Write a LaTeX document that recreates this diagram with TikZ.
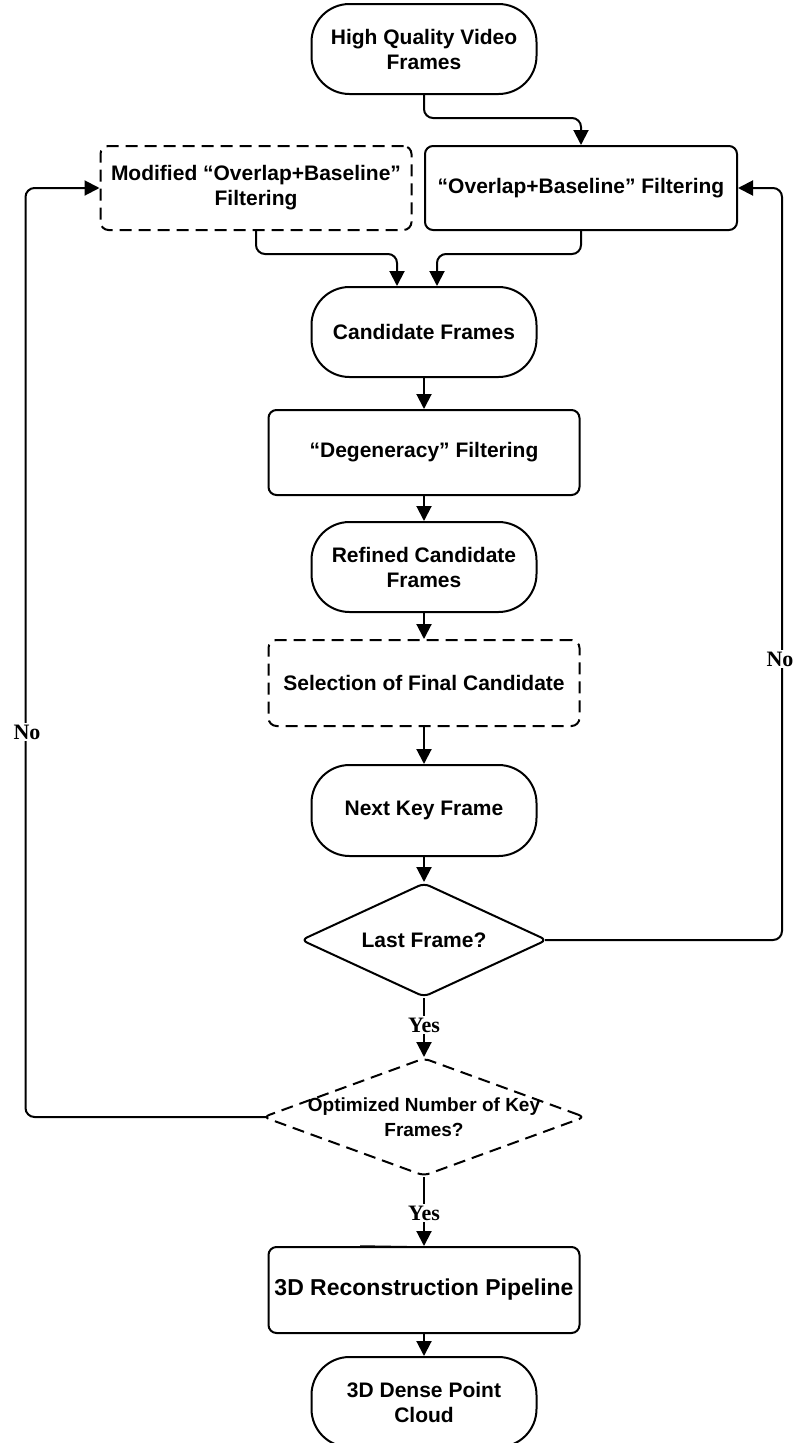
\documentclass[tikz,border=0pt]{standalone}
\usepackage{fontspec}
\setmainfont{Liberation Sans}
\newfontfamily\answerfont{Liberation Serif}
\usetikzlibrary{shapes.geometric,arrows.meta,calc}

\tikzset{
  boxfont/.style={font=\bfseries\fontsize{21}{25}\selectfont},
  base/.style={draw, line width=2pt, align=center, inner sep=0pt, boxfont},
  terminal/.style={base, rectangle, rounded corners=38pt,
    minimum width=225pt, minimum height=90pt},
  process/.style={base, rectangle, rounded corners=8pt,
    minimum width=311pt, minimum height=85pt},
  dashline/.style={dash pattern=on 12pt off 7pt},
  decision/.style={base, diamond, rounded corners=6pt},
  link/.style={line width=2pt, rounded corners=9pt,
    -{Triangle[length=15pt,width=15pt]}},
  answer/.style={fill=white, inner sep=2pt,
    font=\answerfont\bfseries\fontsize{22}{26}\selectfont},
}

\begin{document}
\begin{tikzpicture}[x=1pt, y=-1pt]
\useasboundingbox (0,0) rectangle (793,1443);
\clip (0,0) rectangle (793,1443);

% main column
\node[terminal] (hq) at (424,49) {High Quality Video\\Frames};
\node[process, dashline, minimum width=311pt, minimum height=84pt] (mod) at (256,188)
  {Modified ``Overlap+Baseline''\\Filtering};
\node[process, minimum width=312pt, minimum height=84pt] (ovl) at (581,188)
  {``Overlap+Baseline'' Filtering};
\node[terminal] (cand) at (424,332) {Candidate Frames};
\node[process] (deg) at (424,452.5) {``Degeneracy'' Filtering};
\node[terminal] (refined) at (424,567) {Refined Candidate\\Frames};
\node[process, dashline, minimum height=86pt] (sel) at (424,683) {Selection of Final Candidate};
\node[terminal, minimum height=91pt] (next) at (424,810.5) {Next Key Frame};

% decisions
\node[decision, minimum width=246pt, minimum height=114pt] (last) at (424,940) {};
\node[boxfont] (lasttext) at (last) {Last Frame?};
\node[decision, dashline, minimum width=322pt, minimum height=118pt] (opt) at (424,1117) {};
\node[font=\bfseries\fontsize{19}{25}\selectfont, align=center] (opttext) at (opt)
  {Optimized Number of Key\\Frames?};

% output
\node[process, minimum height=86pt, font=\bfseries\fontsize{23}{27}\selectfont] (recon) at (424,1290)
  {3D Reconstruction Pipeline};
\node[terminal] (dense) at (424,1402) {3D Dense Point\\Cloud};

% connectors
\draw[link] (hq.south) -- ++(0,23) -| (ovl.north);
\draw[link] (mod.south) -- ++(0,23) -| ([xshift=-27pt]cand.north);
\draw[link] (ovl.south) -- ++(0,23) -| ([xshift=13pt]cand.north);
\draw[link] (cand.south) -- (deg.north);
\draw[link] (deg.south) -- (refined.north);
\draw[link] (refined.south) -- (sel.north);
\draw[link] (sel.south) -- (next.north);
\draw[link] (next.south) -- (last.north);

% "No" loop on the right
\draw[link] ([xshift=-3pt]last.east) -| ($(ovl.east)+(44,0)$) -- (ovl.east);
\node[answer] (noright) at (780,659) {No};

% "No" loop on the left
\draw[link] ([xshift=4pt]opt.west) -| ($(mod.west)+(-74,0)$) -- (mod.west);
\node[answer] (noleft) at (27,732) {No};

% "Yes" branches
\draw[link] (last.south) -- (opt.north);
\node[answer] (yesone) at (424,1025) {Yes};
\draw[link] (opt.south) -- (recon.north);
\node[answer] (yestwo) at (424,1213) {Yes};
\coordinate (stub) at (360,1246);
\draw[line width=1.5pt] (stub) -- ([yshift=-1pt]recon.north);

\draw[link] (recon.south) -- (dense.north);
\end{tikzpicture}
\end{document}
